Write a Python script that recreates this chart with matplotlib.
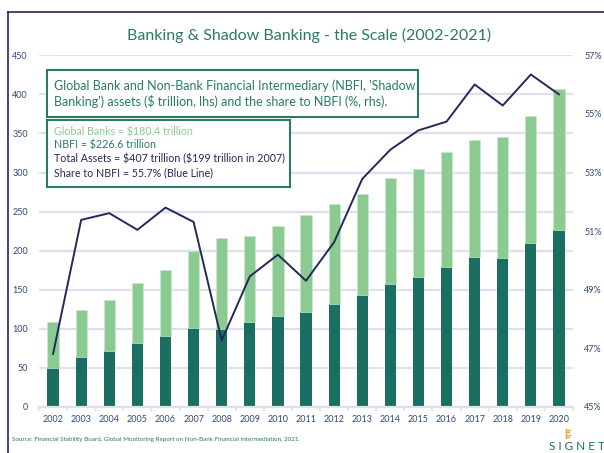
import matplotlib.pyplot as plt
import numpy as np
from matplotlib.lines import Line2D
from matplotlib.patches import Rectangle

plt.rcParams["text.parse_math"] = False

years = [str(y) for y in range(2002, 2021)]
nbfi = [50, 63, 71, 81, 90, 101, 100, 108, 116, 121, 131, 143, 157, 166, 179, 192, 191, 210, 226.6]
total = [108, 124, 137, 158, 175, 199, 216, 218, 232, 245, 259, 272, 293, 304, 326, 342, 346, 372, 407]
share = [46.8, 51.38, 51.61, 51.04, 51.8, 51.31, 47.26, 49.45, 50.19, 49.3,
         50.62, 52.78, 53.78, 54.44, 54.74, 56.01, 55.29, 56.35, 55.67]
banks = [t - n for t, n in zip(total, nbfi)]

DARK = "#1b6e62"
LIGHT = "#8bcb91"
NAVY = "#23295a"
TEAL = "#2a7a66"
TICK = "#2f4a78"
GRID = "#e0dfee"
FONT = "Lato"

fig = plt.figure(figsize=(6.04, 4.53), dpi=100)
ax = fig.add_axes([0.0646, 0.1026, 0.8841, 0.7749])

x = np.arange(len(years))
ax.bar(x, nbfi, width=0.4, color=DARK, zorder=2)
ax.bar(x, banks, width=0.4, bottom=nbfi, color=LIGHT, edgecolor="#c8e8c8", linewidth=0.5, zorder=2)

ax.set_ylim(0, 450)
ax.set_xlim(-0.3, 18.45)
ax.set_yticks(range(0, 451, 50))
ax.grid(axis="y", color=GRID, linewidth=1.6, zorder=0)
ax.set_xticks(x)
ax.set_xticklabels(years)
ax.set_xticks(np.arange(-0.5, 18.6, 1), minor=True)
ax.tick_params(axis="x", which="major", length=0, pad=6, labelsize=6.5, labelcolor=TICK)
ax.tick_params(axis="x", which="minor", length=3, color=GRID, width=1.2)
ax.tick_params(axis="y", length=0, pad=8, labelsize=6.5, labelcolor=TICK)
for s in ["left", "right", "top"]:
    ax.spines[s].set_visible(False)
ax.spines["bottom"].set_color(GRID)
ax.spines["bottom"].set_linewidth(1.6)

ax2 = ax.twinx()
ax2.plot(x, share, color=NAVY, linewidth=1.4, zorder=3)
ax2.set_ylim(45, 57)
ax2.set_yticks(range(45, 58, 2))
ax2.set_yticklabels([f"{v}%" for v in range(45, 58, 2)])
ax2.tick_params(axis="y", length=0, pad=8, labelsize=6.5, labelcolor=TICK)
for s in ["left", "right", "top", "bottom"]:
    ax2.spines[s].set_visible(False)

for lab in ax.get_xticklabels() + ax.get_yticklabels() + ax2.get_yticklabels():
    lab.set_fontfamily(FONT)

# title and frame
fig.text(0.511, 0.921, "Banking & Shadow Banking - the Scale (2002-2021)",
         ha="center", va="center", fontsize=11.5, color=TEAL, family=FONT)
fig.add_artist(Line2D([8 / 604, 1], [1 - 12 / 453] * 2, color=NAVY, linewidth=1.2))
fig.add_artist(Line2D([8 / 604] * 2, [0, 1 - 12 / 453], color=NAVY, linewidth=1.2))

# annotation boxes
def px_box(x0, y0, x1, y1):
    return Rectangle((x0 / 604, 1 - y1 / 453), (x1 - x0) / 604, (y1 - y0) / 453,
                     transform=fig.transFigure, facecolor="white", edgecolor=TEAL,
                     linewidth=1.5, zorder=5)

fig.add_artist(px_box(47, 70, 418, 117))
fig.text(54 / 604, 1 - 86 / 453, "Global Bank and Non-Bank Financial Intermediary (NBFI, 'Shadow",
         fontsize=9, color=TEAL, family=FONT, va="center", zorder=6)
fig.text(54 / 604, 1 - 102 / 453, "Banking') assets ($ trillion, lhs) and the share to NBFI (%, rhs).",
         fontsize=9, color=TEAL, family=FONT, va="center", zorder=6)

fig.add_artist(px_box(47, 120, 290, 187))
box_lines = [
    ("Global Banks = $180.4 trillion", LIGHT),
    ("NBFI = $226.6 trillion", TEAL),
    ("Total Assets = $407 trillion ($199 trillion in 2007)", NAVY),
    ("Share to NBFI = 55.7% (Blue Line)", NAVY),
]
for i, (txt, col) in enumerate(box_lines):
    fig.text(54 / 604, 1 - (132 + 13.5 * i) / 453, txt, fontsize=7.7, color=col,
             family=FONT, va="center", zorder=6)

# source and logo
fig.text(12 / 604, 1 - 440 / 453,
         "Source: Financial Stability Board, Global Monitoring Report on Non-Bank Financial Intermediation, 2021.",
         fontsize=4.5, color=TEAL, family=FONT, va="center")
fig.text(577 / 604, 1 - 446 / 453, "S I G N E T", fontsize=8.5, color=DARK, family=FONT,
         ha="center", va="center")
for k in range(4):
    yy = 1 - (430 + 2.3 * k) / 453
    fig.add_artist(Line2D([566 / 604, (570 - k % 2) / 604], [yy, yy], color="#f2a93b", linewidth=1))
fig.add_artist(Line2D([566 / 604] * 2, [1 - 438 / 453, 1 - 429 / 453], color="#f2a93b", linewidth=1))

fig.savefig("out.png", dpi=100)
